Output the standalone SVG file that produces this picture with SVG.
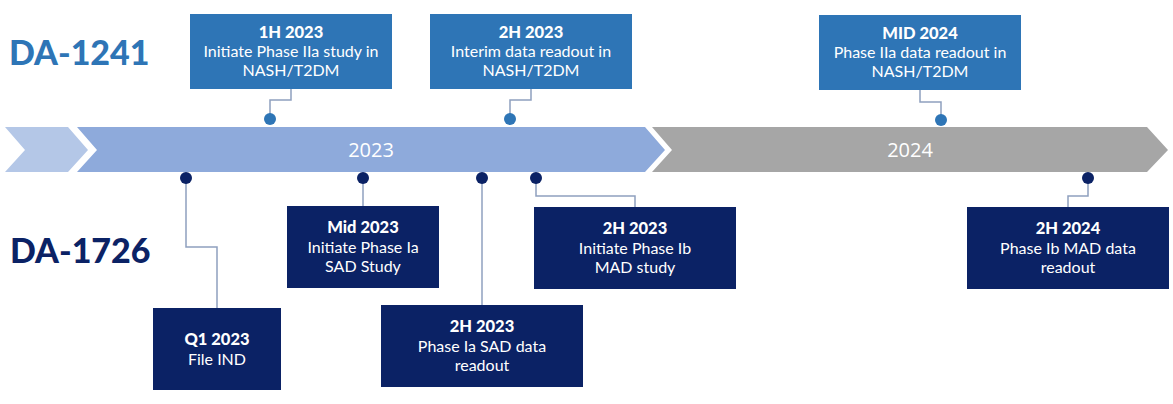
<svg xmlns="http://www.w3.org/2000/svg" width="1173" height="404" viewBox="0 0 1173 404">
<style>
.bg{fill:#ffffff}
.boxT{fill:#2e75b6}
.boxB{fill:#0b2265}
.dotT{fill:#2e75b6}
.dotB{fill:#0b2265}
.h{font-family:Lato,"Open Sans",sans-serif;font-weight:900;font-size:16.5px;fill:#ffffff;text-anchor:middle}
.t{font-family:Lato,"Open Sans",sans-serif;font-size:16px;fill:#ffffff;text-anchor:middle}
.yr{font-family:"Open Sans","Noto Sans",sans-serif;font-size:20px;fill:#ffffff;text-anchor:middle}
.lbl{font-family:Lato,"Open Sans",sans-serif;font-weight:900;font-size:34px}
.conn{fill:none;stroke:#8fa0bf;stroke-width:1.5}
</style>
<rect class="bg" x="0" y="0" width="1173" height="404"/>
<g id="timeline">
<polygon points="5,127 68,127 88,150 68,172 5,172 25,150" fill="#b4c7e7"/>
<polygon points="77,127 645,127 665,150 645,172 77,172 97,150" fill="#8eaadb"/>
<polygon points="652,127 1147,127 1168,150 1147,172 652,172 672,150" fill="#a6a6a6"/>
<text class="yr" x="371" y="157">2023</text>
<text class="yr" x="910" y="157">2024</text>
</g>
<g id="labels">
<text class="lbl" x="9" y="65" fill="#2e75b6">DA-1241</text>
<text class="lbl" x="10" y="263" fill="#0b2265">DA-1726</text>
</g>
<g id="connectors">
<polyline class="conn" points="291,89 291,100 270,100 270,119"/>
<polyline class="conn" points="531,89 531,100 510,100 510,119"/>
<polyline class="conn" points="920,90 920,102 941,102 941,120"/>
<polyline class="conn" points="186,178 186,247 217,247 217,308"/>
<polyline class="conn" points="363,178 363,206"/>
<polyline class="conn" points="482,178 482,305"/>
<polyline class="conn" points="536,178 536,196 635,196 635,207"/>
<polyline class="conn" points="1088,178 1088,196 1068,196 1068,207"/>
<circle class="dotT" cx="270" cy="119" r="6"/>
<circle class="dotT" cx="510" cy="119" r="6"/>
<circle class="dotT" cx="941" cy="120" r="6"/>
<circle class="dotB" cx="186" cy="178" r="6"/>
<circle class="dotB" cx="363" cy="178" r="6"/>
<circle class="dotB" cx="482" cy="178" r="6"/>
<circle class="dotB" cx="536" cy="178" r="6"/>
<circle class="dotB" cx="1088" cy="178" r="6"/>
</g>
<g id="n1">
<rect class="boxT" x="190" y="14" width="202" height="75"/>
<text class="h" x="291" y="38">1H 2023</text>
<text class="t" x="291" y="57">Initiate Phase IIa study in</text>
<text class="t" x="291" y="76">NASH/T2DM</text>
</g>
<g id="n2">
<rect class="boxT" x="430" y="14" width="202" height="75"/>
<text class="h" x="531" y="38">2H 2023</text>
<text class="t" x="531" y="57">Interim data readout in</text>
<text class="t" x="531" y="76">NASH/T2DM</text>
</g>
<g id="n3">
<rect class="boxT" x="819" y="15" width="202" height="75"/>
<text class="h" x="920" y="39">MID 2024</text>
<text class="t" x="920" y="58">Phase IIa data readout in</text>
<text class="t" x="920" y="77">NASH/T2DM</text>
</g>
<g id="n4">
<rect class="boxB" x="153" y="308" width="128" height="82"/>
<text class="h" x="217" y="345">Q1 2023</text>
<text class="t" x="217" y="365">File IND</text>
</g>
<g id="n5">
<rect class="boxB" x="287" y="206" width="152" height="82"/>
<text class="h" x="363" y="233">Mid 2023</text>
<text class="t" x="363" y="253">Initiate Phase Ia</text>
<text class="t" x="363" y="272">SAD Study</text>
</g>
<g id="n6">
<rect class="boxB" x="381" y="305" width="202" height="82"/>
<text class="h" x="482" y="332">2H 2023</text>
<text class="t" x="482" y="352">Phase Ia SAD data</text>
<text class="t" x="482" y="371">readout</text>
</g>
<g id="n7">
<rect class="boxB" x="534" y="207" width="202" height="82"/>
<text class="h" x="635" y="234">2H 2023</text>
<text class="t" x="635" y="254">Initiate Phase Ib</text>
<text class="t" x="635" y="273">MAD study</text>
</g>
<g id="n8">
<rect class="boxB" x="967" y="207" width="202" height="82"/>
<text class="h" x="1068" y="234">2H 2024</text>
<text class="t" x="1068" y="254">Phase Ib MAD data</text>
<text class="t" x="1068" y="273">readout</text>
</g>
</svg>
